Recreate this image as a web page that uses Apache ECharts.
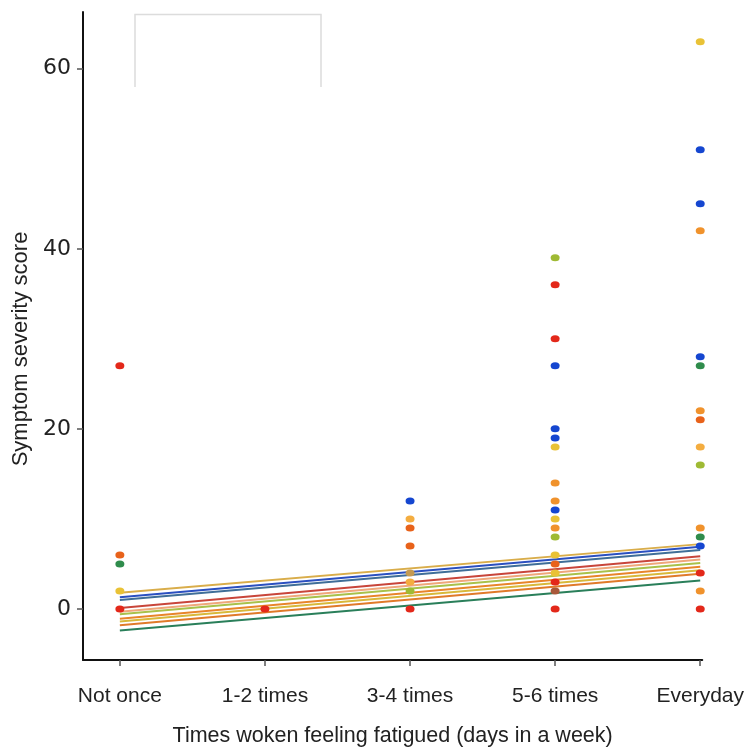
<!DOCTYPE html>
<html>
<head>
<meta charset="utf-8">
<script src="https://cdn.jsdelivr.net/npm/echarts@6/dist/echarts.min.js"></script>
<style>html,body{margin:0;padding:0;background:#fff;overflow:hidden}#c{width:747px;height:752px}</style>
</head>
<body>
<div id="c"></div>
<script>
const categories = ["Not once", "1-2 times", "3-4 times", "5-6 times", "Everyday"];
const yTicks = [0, 20, 40, 60];

// Observed scores, grouped by dot colour: [category, score]
const redPoints = [["Not once",27],["Not once",0],["1-2 times",0],["3-4 times",0],["5-6 times",36],["5-6 times",30],["5-6 times",3],["5-6 times",0],["Everyday",4],["Everyday",0]];
const orangeRedPoints = [["Not once",6],["3-4 times",9],["3-4 times",7],["5-6 times",5],["Everyday",21]];
const orangePoints = [["5-6 times",14],["5-6 times",12],["5-6 times",9],["Everyday",42],["Everyday",22],["Everyday",9],["Everyday",2]];
const lightOrangePoints = [["3-4 times",10],["3-4 times",3],["Everyday",18]];
const goldPoints = [["Not once",2],["5-6 times",18],["5-6 times",10],["5-6 times",6],["5-6 times",4],["Everyday",63]];
const tanPoints = [["3-4 times",4]];
const brownPoints = [["5-6 times",2]];
const bluePoints = [["3-4 times",12],["5-6 times",27],["5-6 times",20],["5-6 times",19],["5-6 times",11],["Everyday",51],["Everyday",45],["Everyday",28],["Everyday",7]];
const greenPoints = [["Not once",5],["Everyday",27],["Everyday",8]];
const yellowGreenPoints = [["3-4 times",2],["5-6 times",39],["5-6 times",8],["Everyday",16]];

// Fitted lines: value at "Not once" and at "Everyday"
const fitStart = [1.8, 1.3, 1.0, 0.1, -0.3, -0.6, -1.1, -1.4, -1.8, -2.4];
const fitEnd   = [7.2, 6.9, 6.55, 5.85, 5.5, 5.1, 4.7, 4.3, 3.9, 3.15];

const lineColors = ["#d9ad4a", "#2a4fc0", "#3f6e98", "#c8453a", "#efa77a", "#a9c14a", "#e8852a", "#d8b83a", "#e07a2a", "#2a7f5a"];

const dotGroups = [
  [redPoints, "#e3281a"],
  [orangeRedPoints, "#e8621a"],
  [orangePoints, "#f0922c"],
  [lightOrangePoints, "#f4ad40"],
  [goldPoints, "#e9c236"],
  [tanPoints, "#c49a52"],
  [brownPoints, "#a8583a"],
  [bluePoints, "#1546d0"],
  [greenPoints, "#2f8c4c"],
  [yellowGreenPoints, "#9fba34"]
];

const series = [];
fitStart.forEach((s, i) => {
  series.push({
    type: "line", z: 2, symbol: "none", silent: true,
    lineStyle: { color: lineColors[i], width: 2 },
    data: [[0, s], [categories.length - 1, fitEnd[i]]]
  });
});
dotGroups.forEach(([pts, col]) => {
  series.push({
    type: "scatter", z: 5, symbol: "circle", symbolSize: [9, 7],
    itemStyle: { color: col, opacity: 1 },
    data: pts.map(p => [categories.indexOf(p[0]), p[1]])
  });
});

const chart = echarts.init(document.getElementById("c"));
chart.setOption({
  animation: false,
  backgroundColor: "#fff",
  grid: { left: 83, right: 42, top: 12, bottom: 88, containLabel: false },
  xAxis: {
    type: "value", min: -0.254, max: 4.014,
    name: "Times woken feeling fatigued (days in a week)",
    nameLocation: "middle", nameGap: 65,
    nameTextStyle: { fontFamily: "Liberation Sans", fontSize: 21.5, color: "#222" },
    axisLine: { show: true, onZero: false, lineStyle: { color: "#111", width: 2 } },
    axisTick: { show: true, customValues: [0,1,2,3,4], length: 6, lineStyle: { color: "#555", width: 1.5 } },
    axisLabel: { customValues: [0,1,2,3,4], formatter: v => categories[Math.round(v)], margin: 26,
      fontFamily: "Liberation Sans", fontSize: 21, color: "#222" },
    splitLine: { show: false }
  },
  yAxis: {
    type: "value", min: -5.67, max: 66.3,
    name: "Symptom severity score",
    nameLocation: "middle", nameGap: 50,
    nameTextStyle: { fontFamily: "Liberation Sans", fontSize: 22, color: "#222", padding: [0, 26, 0, 0] },
    axisLine: { show: true, onZero: false, lineStyle: { color: "#111", width: 2 } },
    axisTick: { show: true, customValues: yTicks, length: 6, lineStyle: { color: "#555", width: 1.5 } },
    axisLabel: { customValues: yTicks, margin: 12, fontFamily: "DejaVu Sans", fontSize: 22, color: "#222" },
    splitLine: { show: false }
  },
  graphic: [{
    type: "polyline", silent: true,
    shape: { points: [[135, 87], [135, 14.5], [321, 14.5], [321, 87]] },
    style: { stroke: "#dcdcdc", lineWidth: 1.5, fill: null }
  }],
  series: series
});
</script>
</body>
</html>
